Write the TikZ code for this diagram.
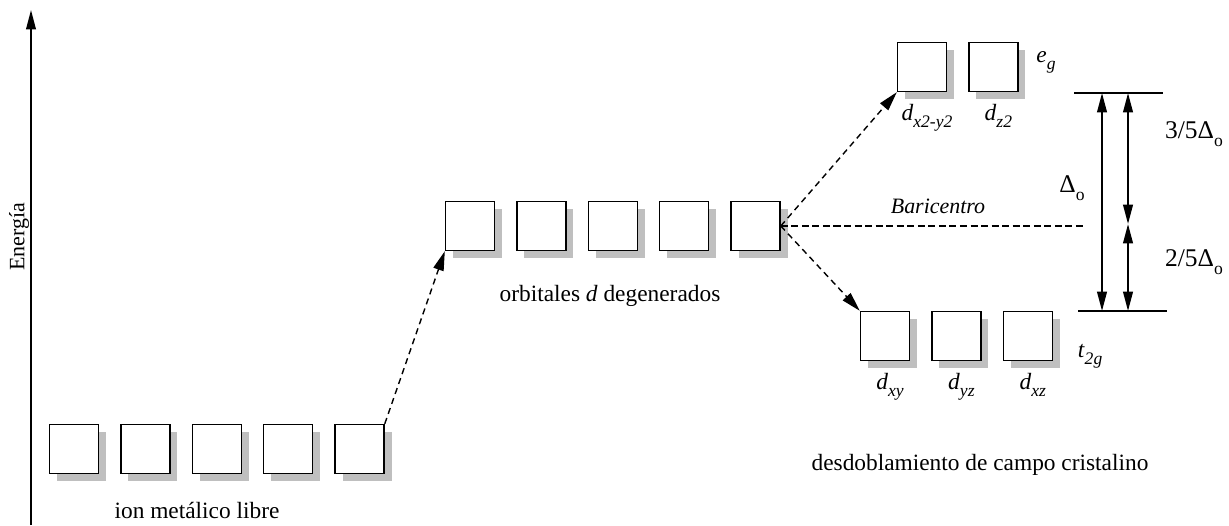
\documentclass[tikz,border=0pt]{standalone}
\usepackage{fontspec}
\setmainfont{Liberation Serif}
\usetikzlibrary{arrows.meta,positioning,shadows}
\newcommand{\lowsub}[1]{\raisebox{-0.3em}{\fontsize{10}{12}\selectfont #1}}
\newcommand{\dorb}[1]{\textit{d}\lowsub{\textit{#1}}}
\newcommand{\Do}{Δ\lowsub{o}}

\begin{document}
\begin{tikzpicture}[
  x=0.02cm, y=-0.02cm,
  node distance=0.42cm,
  orb/.style={draw, line width=0.8pt, fill=white, minimum size=0.98cm, inner sep=0pt,
              drop shadow={shadow xshift=0.15cm, shadow yshift=-0.15cm, fill=black!25, opacity=1}},
  lbl/.style={font=\fontsize{13.3}{16}\selectfont},
  dname/.style={font=\fontsize{13.3}{16}\selectfont, inner sep=1pt},
  big/.style={font=\fontsize{14.5}{17}\selectfont},
  jump/.style={line width=0.8pt, dash pattern=on 3.5pt off 2.5pt, -{Triangle[length=11pt,width=6pt]}},
  gap/.style={line width=1.1pt, {Triangle[length=11pt,width=5.5pt]}-{Triangle[length=11pt,width=5.5pt]}},
  level/.style={line width=0.8pt}
]
\useasboundingbox (0,0) rectangle (1229,525);

% energy axis
\coordinate (ax0) at (31,525);
\coordinate (ax1) at (31,10);
\draw[line width=0.9pt, -{Triangle[length=11pt,width=5.5pt]}] (ax0) -- (ax1);
\node[rotate=90, font=\fontsize{12.5}{15}\selectfont] (en) at (19,237) {Energía};

% free ion
\node[orb] (l1) at (74,449) {};
\node[orb, right=of l1] (l2) {};
\node[orb, right=of l2] (l3) {};
\node[orb, right=of l3] (l4) {};
\node[orb, right=of l4] (l5) {};
\node[lbl] (free) at (197,510) {ion metálico libre};

% degenerate d orbitals
\node[orb] (m1) at (470,226) {};
\node[orb, right=of m1] (m2) {};
\node[orb, right=of m2] (m3) {};
\node[orb, right=of m3] (m4) {};
\node[orb, right=of m4] (m5) {};
\node[lbl] (deg) at (610,296) {orbitales \textit{d} degenerados};

% e_g pair
\node[orb] (e1) at (922,67) {};
\node[orb, right=of e1] (e2) {};
\node[dname, below=0.2cm of e1.south, anchor=north, xshift=0.1cm] {\dorb{x2-y2}};
\node[dname, below=0.2cm of e2.south, anchor=north, xshift=0.1cm] {\dorb{z2}};
\node[lbl] (eg) at (1046,62) {\textit{e}\lowsub{\textit{g}}};

% t_2g triplet
\node[orb] (t1) at (885,336) {};
\node[orb, right=of t1] (t2) {};
\node[orb, right=of t2] (t3) {};
\node[dname, below=0.2cm of t1.south, anchor=north, xshift=0.1cm] {\dorb{xy}};
\node[dname, below=0.2cm of t2.south, anchor=north, xshift=0.1cm] {\dorb{yz}};
\node[dname, below=0.2cm of t3.south, anchor=north, xshift=0.1cm] {\dorb{xz}};
\node[lbl] (t2g) at (1090,356) {\textit{t}\lowsub{\textit{2g}}};

\node[lbl] (split) at (980,465) {desdoblamiento de campo cristalino};

% splitting
\draw[jump] (l5.north east) -- (m1.south west);
\draw[jump] (m5.east) -- (e1.south west);
\draw[jump] (m5.east) -- (t1.north west);
\coordinate (bc) at (1085,226);
\draw[line width=0.8pt, dash pattern=on 4pt off 2pt] (m5.east) -- (bc);
\node[font=\fontsize{12.5}{15}\selectfont\itshape] at (938,206) {Baricentro};

% levels and gaps
\draw[level] (1074,93) coordinate (egl) -- (1163,93) coordinate (egr);
\draw[level] (1078,311) coordinate (tl) -- (1167,311) coordinate (tr);
\coordinate (a1) at (1102,93);
\coordinate (b1) at (1102,311);
\coordinate (a2) at (1128,93);
\coordinate (b2) at (1128,311);
\coordinate (c2) at (1128,224);
\draw[gap] (a1) -- (b1);
\draw[gap] (a2) -- (c2);
\draw[gap] (b2) -- (c2);
\node[big] at (1072,188) {\Do};
\node[big] at (1194,134) {3/5\Do};
\node[big] at (1194,262) {2/5\Do};
\end{tikzpicture}
\end{document}
